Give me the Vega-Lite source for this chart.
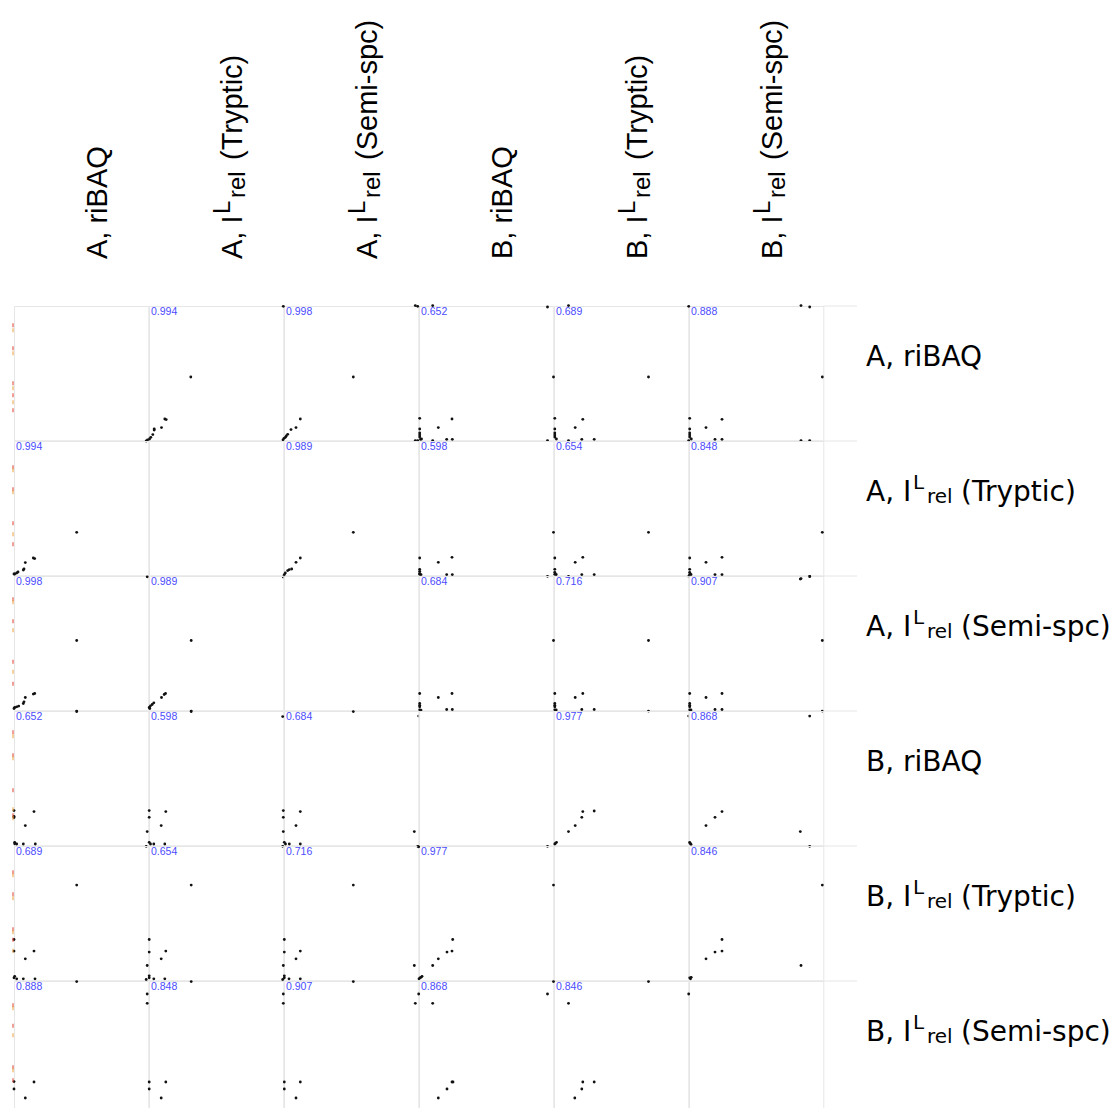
{
  "$schema": "https://vega.github.io/schema/vega-lite/v6.json",
  "background": "white",
  "padding": {"left": 12, "top": 19, "right": 0, "bottom": 0},
  "bounds": "flush",
  "config": {"view": {"stroke": "#e6e6e6", "strokeWidth": 1}},
  "data": {"values": [
    {"t":"h","r":0,"c":0,"v":"A, riBAQ","sp":"","sb":"","sf":""},{"t":"h","r":0,"c":1,"v":"A, I","sp":"L","sb":"rel","sf":"(Tryptic)"},{"t":"h","r":0,"c":2,"v":"A, I","sp":"L","sb":"rel","sf":"(Semi-spc)"},{"t":"h","r":0,"c":3,"v":"B, riBAQ","sp":"","sb":"","sf":""},{"t":"h","r":0,"c":4,"v":"B, I","sp":"L","sb":"rel","sf":"(Tryptic)"},{"t":"h","r":0,"c":5,"v":"B, I","sp":"L","sb":"rel","sf":"(Semi-spc)"},
    {"t":"q","r":0,"c":5,"v":"A, riBAQ","sp":"","sb":"","sf":""},{"t":"q","r":1,"c":5,"v":"A, I","sp":"L","sb":"rel","sf":"(Tryptic)"},{"t":"q","r":2,"c":5,"v":"A, I","sp":"L","sb":"rel","sf":"(Semi-spc)"},{"t":"q","r":3,"c":5,"v":"B, riBAQ","sp":"","sb":"","sf":""},{"t":"q","r":4,"c":5,"v":"B, I","sp":"L","sb":"rel","sf":"(Tryptic)"},{"t":"q","r":5,"c":5,"v":"B, I","sp":"L","sb":"rel","sf":"(Semi-spc)"},
    {"t":"p","r":0,"c":1,"x":-2.8,"y":-0.7},{"t":"p","r":0,"c":1,"x":-1.5,"y":0.3},{"t":"p","r":0,"c":1,"x":0.5,"y":1.3},{"t":"p","r":0,"c":1,"x":1.8,"y":3},{"t":"p","r":0,"c":1,"x":3.8,"y":5.7},{"t":"p","r":0,"c":1,"x":5.2,"y":10.3},{"t":"p","r":0,"c":1,"x":5.2,"y":11.3},{"t":"p","r":0,"c":1,"x":12.5,"y":12.7},{"t":"p","r":0,"c":1,"x":15.8,"y":21.3},{"t":"p","r":0,"c":1,"x":17.2,"y":20.7},{"t":"p","r":0,"c":1,"x":41.8,"y":63.3},
    {"t":"p","r":0,"c":2,"x":-0.7,"y":134},{"t":"p","r":0,"c":2,"x":0,"y":2},{"t":"p","r":0,"c":2,"x":1.3,"y":3},{"t":"p","r":0,"c":2,"x":2.3,"y":4.3},{"t":"p","r":0,"c":2,"x":3.7,"y":6},{"t":"p","r":0,"c":2,"x":7,"y":10.7},{"t":"p","r":0,"c":2,"x":12,"y":12.7},{"t":"p","r":0,"c":2,"x":16.3,"y":21.3},{"t":"p","r":0,"c":2,"x":69.3,"y":63.3},{"t":"p","r":0,"c":2,"x":-1,"y":0.5},
    {"t":"p","r":0,"c":3,"x":-3.7,"y":134.7},{"t":"p","r":0,"c":3,"x":-1.3,"y":134},{"t":"p","r":0,"c":3,"x":13.7,"y":134.7},{"t":"p","r":0,"c":3,"x":0.7,"y":22},{"t":"p","r":0,"c":3,"x":0.7,"y":11.3},{"t":"p","r":0,"c":3,"x":0.7,"y":7.3},{"t":"p","r":0,"c":3,"x":0.7,"y":5.3},{"t":"p","r":0,"c":3,"x":0.7,"y":3.3},{"t":"p","r":0,"c":3,"x":1.5,"y":1},{"t":"p","r":0,"c":3,"x":2.5,"y":1.3},{"t":"p","r":0,"c":3,"x":-3.7,"y":-0.3},{"t":"p","r":0,"c":3,"x":-1.3,"y":-0.3},{"t":"p","r":0,"c":3,"x":13.7,"y":-0.3},{"t":"p","r":0,"c":3,"x":19.3,"y":12.7},{"t":"p","r":0,"c":3,"x":27.7,"y":1},{"t":"p","r":0,"c":3,"x":33.3,"y":1},{"t":"p","r":0,"c":3,"x":33,"y":21.3},
    {"t":"p","r":0,"c":4,"x":-6.5,"y":133.3},{"t":"p","r":0,"c":4,"x":14.5,"y":134.7},{"t":"p","r":0,"c":4,"x":-0.5,"y":63.3},{"t":"p","r":0,"c":4,"x":94.5,"y":63.3},{"t":"p","r":0,"c":4,"x":0.8,"y":22},{"t":"p","r":0,"c":4,"x":0.8,"y":11.3},{"t":"p","r":0,"c":4,"x":0.8,"y":7.3},{"t":"p","r":0,"c":4,"x":0.8,"y":5.3},{"t":"p","r":0,"c":4,"x":0.8,"y":3.3},{"t":"p","r":0,"c":4,"x":2.4,"y":1.3},{"t":"p","r":0,"c":4,"x":21.2,"y":12.7},{"t":"p","r":0,"c":4,"x":28.8,"y":21},{"t":"p","r":0,"c":4,"x":-6.5,"y":-0.3},{"t":"p","r":0,"c":4,"x":14.5,"y":-0.3},{"t":"p","r":0,"c":4,"x":27.8,"y":1},{"t":"p","r":0,"c":4,"x":40.2,"y":1},
    {"t":"p","r":0,"c":5,"x":-0.3,"y":134},{"t":"p","r":0,"c":5,"x":112,"y":134.7},{"t":"p","r":0,"c":5,"x":120.7,"y":133.3},{"t":"p","r":0,"c":5,"x":133.3,"y":63.3},{"t":"p","r":0,"c":5,"x":0.7,"y":22},{"t":"p","r":0,"c":5,"x":0.7,"y":11.3},{"t":"p","r":0,"c":5,"x":0.7,"y":7.3},{"t":"p","r":0,"c":5,"x":0.7,"y":5.3},{"t":"p","r":0,"c":5,"x":0.7,"y":3.3},{"t":"p","r":0,"c":5,"x":2.3,"y":1.3},{"t":"p","r":0,"c":5,"x":17,"y":12.7},{"t":"p","r":0,"c":5,"x":33,"y":21},{"t":"p","r":0,"c":5,"x":-0.3,"y":-0.3},{"t":"p","r":0,"c":5,"x":26,"y":1},{"t":"p","r":0,"c":5,"x":33,"y":1},{"t":"p","r":0,"c":5,"x":112,"y":-0.3},{"t":"p","r":0,"c":5,"x":120.7,"y":-0.3},
    {"t":"p","r":1,"c":0,"x":0.7,"y":1.3},{"t":"p","r":1,"c":0,"x":2.7,"y":2.3},{"t":"p","r":1,"c":0,"x":4,"y":3.3},{"t":"p","r":1,"c":0,"x":9.3,"y":5.3},{"t":"p","r":1,"c":0,"x":10,"y":6.3},{"t":"p","r":1,"c":0,"x":11.3,"y":12.7},{"t":"p","r":1,"c":0,"x":19.3,"y":17.3},{"t":"p","r":1,"c":0,"x":20.7,"y":16.7},{"t":"p","r":1,"c":0,"x":62.7,"y":43},{"t":"p","r":1,"c":0,"x":0,"y":1.3},
    {"t":"p","r":1,"c":2,"x":0.3,"y":0.7},{"t":"p","r":1,"c":2,"x":-0.7,"y":-1.7},{"t":"p","r":1,"c":2,"x":1.3,"y":2.3},{"t":"p","r":1,"c":2,"x":3.7,"y":4.7},{"t":"p","r":1,"c":2,"x":5.3,"y":5.7},{"t":"p","r":1,"c":2,"x":7.7,"y":6.3},{"t":"p","r":1,"c":2,"x":12,"y":13},{"t":"p","r":1,"c":2,"x":16.3,"y":17.3},{"t":"p","r":1,"c":2,"x":69.3,"y":43},
    {"t":"p","r":1,"c":3,"x":0.7,"y":17.3},{"t":"p","r":1,"c":3,"x":19.3,"y":13},{"t":"p","r":1,"c":3,"x":33,"y":18},{"t":"p","r":1,"c":3,"x":0.7,"y":6},{"t":"p","r":1,"c":3,"x":0.7,"y":4},{"t":"p","r":1,"c":3,"x":0.7,"y":2},{"t":"p","r":1,"c":3,"x":0.7,"y":1},{"t":"p","r":1,"c":3,"x":2,"y":0.7},{"t":"p","r":1,"c":3,"x":27.7,"y":0.7},{"t":"p","r":1,"c":3,"x":33.3,"y":0.7},
    {"t":"p","r":1,"c":4,"x":-0.5,"y":43},{"t":"p","r":1,"c":4,"x":94.5,"y":43},{"t":"p","r":1,"c":4,"x":0.8,"y":17.3},{"t":"p","r":1,"c":4,"x":21.2,"y":13},{"t":"p","r":1,"c":4,"x":28.8,"y":18},{"t":"p","r":1,"c":4,"x":0.8,"y":6},{"t":"p","r":1,"c":4,"x":0.8,"y":3},{"t":"p","r":1,"c":4,"x":0.8,"y":1},{"t":"p","r":1,"c":4,"x":2.2,"y":0.8},{"t":"p","r":1,"c":4,"x":27.8,"y":0.7},{"t":"p","r":1,"c":4,"x":40.2,"y":0.7},{"t":"p","r":1,"c":4,"x":-6.5,"y":-1},{"t":"p","r":1,"c":4,"x":14.5,"y":-1},
    {"t":"p","r":1,"c":5,"x":133.3,"y":43},{"t":"p","r":1,"c":5,"x":0.7,"y":17.3},{"t":"p","r":1,"c":5,"x":17,"y":13},{"t":"p","r":1,"c":5,"x":33,"y":18},{"t":"p","r":1,"c":5,"x":0.7,"y":6},{"t":"p","r":1,"c":5,"x":0.7,"y":3},{"t":"p","r":1,"c":5,"x":0.7,"y":1},{"t":"p","r":1,"c":5,"x":2,"y":0.8},{"t":"p","r":1,"c":5,"x":26,"y":0.7},{"t":"p","r":1,"c":5,"x":33,"y":0.7},{"t":"p","r":1,"c":5,"x":112,"y":-3.3},{"t":"p","r":1,"c":5,"x":120.7,"y":-1},{"t":"p","r":1,"c":5,"x":-0.3,"y":-1},
    {"t":"p","r":2,"c":0,"x":62.7,"y":69.8},{"t":"p","r":2,"c":0,"x":62.7,"y":-0.8},{"t":"p","r":2,"c":0,"x":0.7,"y":2.8},{"t":"p","r":2,"c":0,"x":0,"y":1.8},{"t":"p","r":2,"c":0,"x":2.7,"y":3.5},{"t":"p","r":2,"c":0,"x":4.7,"y":4.2},{"t":"p","r":2,"c":0,"x":9.3,"y":6.8},{"t":"p","r":2,"c":0,"x":10,"y":8.5},{"t":"p","r":2,"c":0,"x":11.3,"y":12.8},{"t":"p","r":2,"c":0,"x":19.3,"y":16.2},{"t":"p","r":2,"c":0,"x":20.7,"y":16.8},
    {"t":"p","r":2,"c":1,"x":-1.8,"y":133.5},{"t":"p","r":2,"c":1,"x":42.2,"y":69.8},{"t":"p","r":2,"c":1,"x":42.2,"y":-0.8},{"t":"p","r":2,"c":1,"x":0.2,"y":2.8},{"t":"p","r":2,"c":1,"x":1.5,"y":4.5},{"t":"p","r":2,"c":1,"x":3.2,"y":5.8},{"t":"p","r":2,"c":1,"x":4.8,"y":7.5},{"t":"p","r":2,"c":1,"x":12.5,"y":12.8},{"t":"p","r":2,"c":1,"x":16.5,"y":16.8},{"t":"p","r":2,"c":1,"x":15.2,"y":15.8},{"t":"p","r":2,"c":1,"x":0.8,"y":1.8},
    {"t":"p","r":2,"c":3,"x":0.7,"y":16.8},{"t":"p","r":2,"c":3,"x":19.3,"y":12.8},{"t":"p","r":2,"c":3,"x":33,"y":16.8},{"t":"p","r":2,"c":3,"x":0.7,"y":6.8},{"t":"p","r":2,"c":3,"x":0.7,"y":5},{"t":"p","r":2,"c":3,"x":0.7,"y":3.5},{"t":"p","r":2,"c":3,"x":0.7,"y":0.5},{"t":"p","r":2,"c":3,"x":2,"y":0.2},{"t":"p","r":2,"c":3,"x":27.7,"y":0.8},{"t":"p","r":2,"c":3,"x":33.3,"y":0.8},{"t":"p","r":2,"c":3,"x":-0.3,"y":-5.8},
    {"t":"p","r":2,"c":4,"x":-0.5,"y":69.8},{"t":"p","r":2,"c":4,"x":94.5,"y":69.8},{"t":"p","r":2,"c":4,"x":94.5,"y":-0.8},{"t":"p","r":2,"c":4,"x":0.8,"y":16.8},{"t":"p","r":2,"c":4,"x":21.2,"y":12.8},{"t":"p","r":2,"c":4,"x":28.8,"y":16.8},{"t":"p","r":2,"c":4,"x":0.8,"y":6.8},{"t":"p","r":2,"c":4,"x":0.8,"y":5},{"t":"p","r":2,"c":4,"x":0.8,"y":3.5},{"t":"p","r":2,"c":4,"x":0.8,"y":0.5},{"t":"p","r":2,"c":4,"x":2.2,"y":0.3},{"t":"p","r":2,"c":4,"x":27.8,"y":0.8},{"t":"p","r":2,"c":4,"x":40.2,"y":0.8},
    {"t":"p","r":2,"c":5,"x":111.3,"y":131.2},{"t":"p","r":2,"c":5,"x":120.7,"y":133.8},{"t":"p","r":2,"c":5,"x":133.3,"y":69.8},{"t":"p","r":2,"c":5,"x":133.3,"y":-0.8},{"t":"p","r":2,"c":5,"x":0.7,"y":16.8},{"t":"p","r":2,"c":5,"x":17,"y":12.8},{"t":"p","r":2,"c":5,"x":33,"y":16.8},{"t":"p","r":2,"c":5,"x":0.7,"y":6.8},{"t":"p","r":2,"c":5,"x":0.7,"y":5},{"t":"p","r":2,"c":5,"x":0.7,"y":3.5},{"t":"p","r":2,"c":5,"x":0.7,"y":0.5},{"t":"p","r":2,"c":5,"x":2,"y":0.3},{"t":"p","r":2,"c":5,"x":26,"y":0.8},{"t":"p","r":2,"c":5,"x":33,"y":0.8},{"t":"p","r":2,"c":5,"x":-0.3,"y":-5.8},{"t":"p","r":2,"c":5,"x":120.7,"y":-5.8},
    {"t":"p","r":3,"c":0,"x":62.7,"y":133.7},{"t":"p","r":3,"c":0,"x":0,"y":34.7},{"t":"p","r":3,"c":0,"x":0,"y":29},{"t":"p","r":3,"c":0,"x":0,"y":27.7},{"t":"p","r":3,"c":0,"x":20,"y":33.7},{"t":"p","r":3,"c":0,"x":11.3,"y":19.7},{"t":"p","r":3,"c":0,"x":0.7,"y":3},{"t":"p","r":3,"c":0,"x":2.7,"y":1.3},{"t":"p","r":3,"c":0,"x":9.3,"y":1.3},{"t":"p","r":3,"c":0,"x":21.3,"y":1.3},{"t":"p","r":3,"c":0,"x":0.7,"y":1.5},
    {"t":"p","r":3,"c":1,"x":42.2,"y":133.7},{"t":"p","r":3,"c":1,"x":0.2,"y":34.7},{"t":"p","r":3,"c":1,"x":0.2,"y":28},{"t":"p","r":3,"c":1,"x":16.8,"y":33.7},{"t":"p","r":3,"c":1,"x":12.2,"y":19.7},{"t":"p","r":3,"c":1,"x":-1.8,"y":13.7},{"t":"p","r":3,"c":1,"x":0.2,"y":3},{"t":"p","r":3,"c":1,"x":1.5,"y":1.3},{"t":"p","r":3,"c":1,"x":4.8,"y":1.3},{"t":"p","r":3,"c":1,"x":15.8,"y":1.3},{"t":"p","r":3,"c":1,"x":-2.8,"y":-1},
    {"t":"p","r":3,"c":2,"x":69.3,"y":133.7},{"t":"p","r":3,"c":2,"x":-1.3,"y":128.7},{"t":"p","r":3,"c":2,"x":-0.7,"y":34.7},{"t":"p","r":3,"c":2,"x":-0.7,"y":28},{"t":"p","r":3,"c":2,"x":16.3,"y":33.7},{"t":"p","r":3,"c":2,"x":12,"y":19.7},{"t":"p","r":3,"c":2,"x":-0.7,"y":13.7},{"t":"p","r":3,"c":2,"x":0.3,"y":3},{"t":"p","r":3,"c":2,"x":1.5,"y":1.3},{"t":"p","r":3,"c":2,"x":5.3,"y":1.3},{"t":"p","r":3,"c":2,"x":16.3,"y":1.3},{"t":"p","r":3,"c":2,"x":-1.3,"y":-1},{"t":"p","r":3,"c":2,"x":130.3,"y":13.7},{"t":"p","r":3,"c":2,"x":133.7,"y":-1},
    {"t":"p","r":3,"c":4,"x":14.5,"y":13.7},{"t":"p","r":3,"c":4,"x":21.2,"y":19.7},{"t":"p","r":3,"c":4,"x":27.8,"y":28},{"t":"p","r":3,"c":4,"x":28.8,"y":33.7},{"t":"p","r":3,"c":4,"x":40.2,"y":34.3},{"t":"p","r":3,"c":4,"x":0.8,"y":1.3},{"t":"p","r":3,"c":4,"x":2.5,"y":3},{"t":"p","r":3,"c":4,"x":1.5,"y":2},{"t":"p","r":3,"c":4,"x":-6.5,"y":-1},
    {"t":"p","r":3,"c":5,"x":17,"y":19.7},{"t":"p","r":3,"c":5,"x":26,"y":28},{"t":"p","r":3,"c":5,"x":33,"y":33.7},{"t":"p","r":3,"c":5,"x":111.3,"y":13.7},{"t":"p","r":3,"c":5,"x":120.7,"y":-1},{"t":"p","r":3,"c":5,"x":0.7,"y":3},{"t":"p","r":3,"c":5,"x":2,"y":1},{"t":"p","r":3,"c":5,"x":1.2,"y":2},
    {"t":"p","r":4,"c":0,"x":62.7,"y":95.2},{"t":"p","r":4,"c":0,"x":0,"y":40.8},{"t":"p","r":4,"c":0,"x":0,"y":29.2},{"t":"p","r":4,"c":0,"x":20,"y":29.2},{"t":"p","r":4,"c":0,"x":11.3,"y":21.5},{"t":"p","r":4,"c":0,"x":0,"y":2.5},{"t":"p","r":4,"c":0,"x":2.7,"y":1.5},{"t":"p","r":4,"c":0,"x":9.3,"y":1.5},{"t":"p","r":4,"c":0,"x":21,"y":1.5},{"t":"p","r":4,"c":0,"x":0.7,"y":4},
    {"t":"p","r":4,"c":1,"x":42.2,"y":95.2},{"t":"p","r":4,"c":1,"x":0.2,"y":40.8},{"t":"p","r":4,"c":1,"x":0.2,"y":28.2},{"t":"p","r":4,"c":1,"x":16.8,"y":29.2},{"t":"p","r":4,"c":1,"x":12.2,"y":21.5},{"t":"p","r":4,"c":1,"x":-1.8,"y":14.8},{"t":"p","r":4,"c":1,"x":0.2,"y":2.5},{"t":"p","r":4,"c":1,"x":4.8,"y":1.5},{"t":"p","r":4,"c":1,"x":15.8,"y":1.5},{"t":"p","r":4,"c":1,"x":-2.8,"y":0.8},{"t":"p","r":4,"c":1,"x":0.2,"y":4.5},
    {"t":"p","r":4,"c":2,"x":69.3,"y":95.2},{"t":"p","r":4,"c":2,"x":0.3,"y":40.8},{"t":"p","r":4,"c":2,"x":0.3,"y":28.2},{"t":"p","r":4,"c":2,"x":16.3,"y":29.2},{"t":"p","r":4,"c":2,"x":12,"y":21.5},{"t":"p","r":4,"c":2,"x":-0.7,"y":14.8},{"t":"p","r":4,"c":2,"x":0.3,"y":2.5},{"t":"p","r":4,"c":2,"x":5,"y":1.5},{"t":"p","r":4,"c":2,"x":16.3,"y":1.5},{"t":"p","r":4,"c":2,"x":-1.3,"y":0.8},{"t":"p","r":4,"c":2,"x":130.3,"y":14.8},{"t":"p","r":4,"c":2,"x":0.3,"y":4.5},
    {"t":"p","r":4,"c":3,"x":1,"y":2.5},{"t":"p","r":4,"c":3,"x":3,"y":4},{"t":"p","r":4,"c":3,"x":2,"y":3},{"t":"p","r":4,"c":3,"x":13.7,"y":14.8},{"t":"p","r":4,"c":3,"x":19.3,"y":21.5},{"t":"p","r":4,"c":3,"x":28,"y":28.2},{"t":"p","r":4,"c":3,"x":33,"y":29.2},{"t":"p","r":4,"c":3,"x":33.7,"y":40.8},{"t":"p","r":4,"c":3,"x":-0.3,"y":133.5},{"t":"p","r":4,"c":3,"x":0,"y":1.5},
    {"t":"p","r":4,"c":4,"x":-0.5,"y":95.2},
    {"t":"p","r":4,"c":5,"x":133.3,"y":95.2},{"t":"p","r":4,"c":5,"x":33,"y":40.8},{"t":"p","r":4,"c":5,"x":26,"y":28.2},{"t":"p","r":4,"c":5,"x":33,"y":29.2},{"t":"p","r":4,"c":5,"x":17,"y":21.5},{"t":"p","r":4,"c":5,"x":112,"y":14.8},{"t":"p","r":4,"c":5,"x":0.7,"y":2.5},{"t":"p","r":4,"c":5,"x":1.5,"y":1.5},{"t":"p","r":4,"c":5,"x":2.2,"y":3},
    {"t":"p","r":5,"c":0,"x":62.7,"y":133.7},{"t":"p","r":5,"c":0,"x":0,"y":33.7},{"t":"p","r":5,"c":0,"x":0,"y":26.3},{"t":"p","r":5,"c":0,"x":20,"y":33.3},{"t":"p","r":5,"c":0,"x":11.3,"y":17.3},
    {"t":"p","r":5,"c":1,"x":42.2,"y":133.7},{"t":"p","r":5,"c":1,"x":-1.8,"y":121.3},{"t":"p","r":5,"c":1,"x":-1.8,"y":112},{"t":"p","r":5,"c":1,"x":0.2,"y":33.3},{"t":"p","r":5,"c":1,"x":0.2,"y":26.3},{"t":"p","r":5,"c":1,"x":16.8,"y":33.3},{"t":"p","r":5,"c":1,"x":12.2,"y":17.3},
    {"t":"p","r":5,"c":2,"x":69.3,"y":133.7},{"t":"p","r":5,"c":2,"x":-0.7,"y":121.3},{"t":"p","r":5,"c":2,"x":-0.7,"y":112},{"t":"p","r":5,"c":2,"x":0.3,"y":33.3},{"t":"p","r":5,"c":2,"x":0.3,"y":26.3},{"t":"p","r":5,"c":2,"x":16.3,"y":33.3},{"t":"p","r":5,"c":2,"x":12,"y":17.3},
    {"t":"p","r":5,"c":3,"x":-3.7,"y":112},{"t":"p","r":5,"c":3,"x":-0.3,"y":121.3},{"t":"p","r":5,"c":3,"x":13.7,"y":112},{"t":"p","r":5,"c":3,"x":19.3,"y":17.3},{"t":"p","r":5,"c":3,"x":28,"y":26.3},{"t":"p","r":5,"c":3,"x":33,"y":33.3},{"t":"p","r":5,"c":3,"x":34,"y":33.3},
    {"t":"p","r":5,"c":4,"x":-6.5,"y":121.3},{"t":"p","r":5,"c":4,"x":14.5,"y":112},{"t":"p","r":5,"c":4,"x":-0.5,"y":133.7},{"t":"p","r":5,"c":4,"x":94.5,"y":133.7},{"t":"p","r":5,"c":4,"x":20.8,"y":17.3},{"t":"p","r":5,"c":4,"x":27.8,"y":26.3},{"t":"p","r":5,"c":4,"x":28.8,"y":33.3},{"t":"p","r":5,"c":4,"x":40.2,"y":33.3},
    {"t":"p","r":5,"c":5,"x":-0.3,"y":121.3},
    {"t":"k","r":0,"c":0,"y":115,"g":"a"},{"t":"k","r":0,"c":0,"y":110,"g":"b"},{"t":"k","r":0,"c":0,"y":92,"g":"a"},{"t":"k","r":0,"c":0,"y":87,"g":"b"},{"t":"k","r":0,"c":0,"y":57,"g":"a"},{"t":"k","r":0,"c":0,"y":52,"g":"b"},{"t":"k","r":0,"c":0,"y":45,"g":"a"},{"t":"k","r":0,"c":0,"y":38,"g":"b"},{"t":"k","r":0,"c":0,"y":30,"g":"a"},
    {"t":"k","r":1,"c":0,"y":108,"g":"a"},{"t":"k","r":1,"c":0,"y":105,"g":"b"},{"t":"k","r":1,"c":0,"y":86,"g":"a"},{"t":"k","r":1,"c":0,"y":83,"g":"b"},{"t":"k","r":1,"c":0,"y":52,"g":"a"},{"t":"k","r":1,"c":0,"y":41,"g":"b"},{"t":"k","r":1,"c":0,"y":31,"g":"a"},
    {"t":"k","r":2,"c":0,"y":111,"g":"a"},{"t":"k","r":2,"c":0,"y":108,"g":"b"},{"t":"k","r":2,"c":0,"y":89,"g":"a"},{"t":"k","r":2,"c":0,"y":80,"g":"b"},{"t":"k","r":2,"c":0,"y":48.5,"g":"a"},{"t":"k","r":2,"c":0,"y":38.5,"g":"b"},{"t":"k","r":2,"c":0,"y":26.5,"g":"a"},
    {"t":"k","r":3,"c":0,"y":113,"g":"a"},{"t":"k","r":3,"c":0,"y":109,"g":"b"},{"t":"k","r":3,"c":0,"y":90,"g":"a"},{"t":"k","r":3,"c":0,"y":87,"g":"b"},{"t":"k","r":3,"c":0,"y":55,"g":"a"},{"t":"k","r":3,"c":0,"y":36,"g":"b"},{"t":"k","r":3,"c":0,"y":30,"g":"a"},{"t":"k","r":3,"c":0,"y":27,"g":"b"},
    {"t":"k","r":4,"c":0,"y":108,"g":"a"},{"t":"k","r":4,"c":0,"y":105,"g":"b"},{"t":"k","r":4,"c":0,"y":86,"g":"a"},{"t":"k","r":4,"c":0,"y":82,"g":"b"},{"t":"k","r":4,"c":0,"y":51,"g":"a"},{"t":"k","r":4,"c":0,"y":48,"g":"b"},{"t":"k","r":4,"c":0,"y":40.5,"g":"a"},{"t":"k","r":4,"c":0,"y":29.5,"g":"b"},
    {"t":"k","r":5,"c":0,"y":110,"g":"a"},{"t":"k","r":5,"c":0,"y":107,"g":"b"},{"t":"k","r":5,"c":0,"y":89.5,"g":"a"},{"t":"k","r":5,"c":0,"y":80,"g":"b"},{"t":"k","r":5,"c":0,"y":48,"g":"a"},{"t":"k","r":5,"c":0,"y":45,"g":"b"},{"t":"k","r":5,"c":0,"y":35,"g":"a"},
    {"t":"c","r":0,"c":1,"v":"0.994"},{"t":"c","r":0,"c":2,"v":"0.998"},{"t":"c","r":0,"c":3,"v":"0.652"},{"t":"c","r":0,"c":4,"v":"0.689"},{"t":"c","r":0,"c":5,"v":"0.888"},
    {"t":"c","r":1,"c":0,"v":"0.994"},{"t":"c","r":1,"c":2,"v":"0.989"},{"t":"c","r":1,"c":3,"v":"0.598"},{"t":"c","r":1,"c":4,"v":"0.654"},{"t":"c","r":1,"c":5,"v":"0.848"},
    {"t":"c","r":2,"c":0,"v":"0.998"},{"t":"c","r":2,"c":1,"v":"0.989"},{"t":"c","r":2,"c":3,"v":"0.684"},{"t":"c","r":2,"c":4,"v":"0.716"},{"t":"c","r":2,"c":5,"v":"0.907"},
    {"t":"c","r":3,"c":0,"v":"0.652"},{"t":"c","r":3,"c":1,"v":"0.598"},{"t":"c","r":3,"c":2,"v":"0.684"},{"t":"c","r":3,"c":4,"v":"0.977"},{"t":"c","r":3,"c":5,"v":"0.868"},
    {"t":"c","r":4,"c":0,"v":"0.689"},{"t":"c","r":4,"c":1,"v":"0.654"},{"t":"c","r":4,"c":2,"v":"0.716"},{"t":"c","r":4,"c":3,"v":"0.977"},{"t":"c","r":4,"c":5,"v":"0.846"},
    {"t":"c","r":5,"c":0,"v":"0.888"},{"t":"c","r":5,"c":1,"v":"0.848"},{"t":"c","r":5,"c":2,"v":"0.907"},{"t":"c","r":5,"c":3,"v":"0.868"},{"t":"c","r":5,"c":4,"v":"0.846"}
  ]},
  "facet": {
    "row": {"field": "r", "type": "ordinal", "title": null, "header": {"labels": false}},
    "column": {"field": "c", "type": "ordinal", "title": null, "header": {"labels": false}}
  },
  "spacing": 0,
  "spec": {
    "width": 134.3,
    "height": 134.3,
    "encoding": {
      "x": {"type": "quantitative", "scale": {"domain": [0, 134.3], "nice": false, "zero": false}, "axis": null},
      "y": {"type": "quantitative", "scale": {"domain": [0, 134.3], "nice": false, "zero": false}, "axis": null}
    },
    "layer": [
      {
        "transform": [{"filter": "datum.t === 'q'"}],
        "mark": {"type": "rule", "color": "#e6e6e6", "strokeWidth": 1, "clip": false},
        "encoding": {
          "x": {"datum": 134.3, "type": "quantitative"},
          "x2": {"datum": 168},
          "y": {"datum": 134.3, "type": "quantitative"}
        }
      },
      {
        "transform": [{"filter": "datum.t === 'p'"}],
        "mark": {"type": "point", "filled": true, "size": 8, "color": "#111111", "opacity": 1, "clip": false},
        "encoding": {
          "x": {"field": "x", "type": "quantitative"},
          "y": {"field": "y", "type": "quantitative"}
        }
      },
      {
        "transform": [{"filter": "datum.t === 'k'"}],
        "mark": {"type": "tick", "orient": "vertical", "size": 4, "thickness": 1, "opacity": 1, "clip": false},
        "encoding": {
          "x": {"datum": -1, "type": "quantitative"},
          "y": {"field": "y", "type": "quantitative"},
          "color": {"field": "g", "type": "nominal", "scale": {"domain": ["a", "b"], "range": ["#e0402e", "#eda23a"]}, "legend": null}
        }
      },
      {
        "transform": [{"filter": "datum.t === 'c'"}],
        "mark": {"type": "text", "align": "left", "baseline": "top", "dx": 2, "dy": 1, "font": "Liberation Sans", "fontSize": 10.5, "color": "#4b4bff", "clip": false},
        "encoding": {
          "x": {"datum": 0, "type": "quantitative"},
          "y": {"datum": 134.3, "type": "quantitative"},
          "text": {"field": "v", "type": "nominal"}
        }
      },
      {
        "transform": [{"filter": "datum.t === 'h'"}],
        "mark": {"type": "text", "angle": 270, "align": "left", "baseline": "alphabetic", "font": "Liberation Sans", "fontSize": 29, "color": "#000000", "clip": false, "limit": 0},
        "encoding": {
          "x": {"datum": 93, "type": "quantitative"},
          "y": {"datum": 181.3, "type": "quantitative"},
          "text": {"field": "v", "type": "nominal"}
        }
      },
      {
        "transform": [{"filter": "datum.t === 'h'"}],
        "mark": {"type": "text", "angle": 270, "align": "left", "baseline": "alphabetic", "dx": 45, "dy": -12, "font": "Liberation Sans", "fontSize": 24, "color": "#000000", "clip": false, "limit": 0},
        "encoding": {
          "x": {"datum": 93, "type": "quantitative"},
          "y": {"datum": 181.3, "type": "quantitative"},
          "text": {"field": "sp", "type": "nominal"}
        }
      },
      {
        "transform": [{"filter": "datum.t === 'h'"}],
        "mark": {"type": "text", "angle": 270, "align": "left", "baseline": "alphabetic", "dx": 61, "dy": 3, "font": "Liberation Sans", "fontSize": 24, "color": "#000000", "clip": false, "limit": 0},
        "encoding": {
          "x": {"datum": 93, "type": "quantitative"},
          "y": {"datum": 181.3, "type": "quantitative"},
          "text": {"field": "sb", "type": "nominal"}
        }
      },
      {
        "transform": [{"filter": "datum.t === 'h'"}],
        "mark": {"type": "text", "angle": 270, "align": "left", "baseline": "alphabetic", "dx": 99, "font": "Liberation Sans", "fontSize": 29, "color": "#000000", "clip": false, "limit": 0},
        "encoding": {
          "x": {"datum": 93, "type": "quantitative"},
          "y": {"datum": 181.3, "type": "quantitative"},
          "text": {"field": "sf", "type": "nominal"}
        }
      },
      {
        "transform": [{"filter": "datum.t === 'q'"}],
        "mark": {"type": "text", "align": "left", "baseline": "alphabetic", "font": "DejaVu Sans", "fontSize": 28, "color": "#000000", "clip": false, "limit": 0},
        "encoding": {
          "x": {"datum": 177, "type": "quantitative"},
          "y": {"datum": 74.3, "type": "quantitative"},
          "text": {"field": "v", "type": "nominal"}
        }
      },
      {
        "transform": [{"filter": "datum.t === 'q'"}],
        "mark": {"type": "text", "align": "left", "baseline": "alphabetic", "dx": 47, "dy": -12, "font": "DejaVu Sans", "fontSize": 20, "color": "#000000", "clip": false, "limit": 0},
        "encoding": {
          "x": {"datum": 177, "type": "quantitative"},
          "y": {"datum": 74.3, "type": "quantitative"},
          "text": {"field": "sp", "type": "nominal"}
        }
      },
      {
        "transform": [{"filter": "datum.t === 'q'"}],
        "mark": {"type": "text", "align": "left", "baseline": "alphabetic", "dx": 61, "dy": 2, "font": "DejaVu Sans", "fontSize": 20, "color": "#000000", "clip": false, "limit": 0},
        "encoding": {
          "x": {"datum": 177, "type": "quantitative"},
          "y": {"datum": 74.3, "type": "quantitative"},
          "text": {"field": "sb", "type": "nominal"}
        }
      },
      {
        "transform": [{"filter": "datum.t === 'q'"}],
        "mark": {"type": "text", "align": "left", "baseline": "alphabetic", "dx": 95, "font": "DejaVu Sans", "fontSize": 28, "color": "#000000", "clip": false, "limit": 0},
        "encoding": {
          "x": {"datum": 177, "type": "quantitative"},
          "y": {"datum": 74.3, "type": "quantitative"},
          "text": {"field": "sf", "type": "nominal"}
        }
      }
    ]
  }
}
